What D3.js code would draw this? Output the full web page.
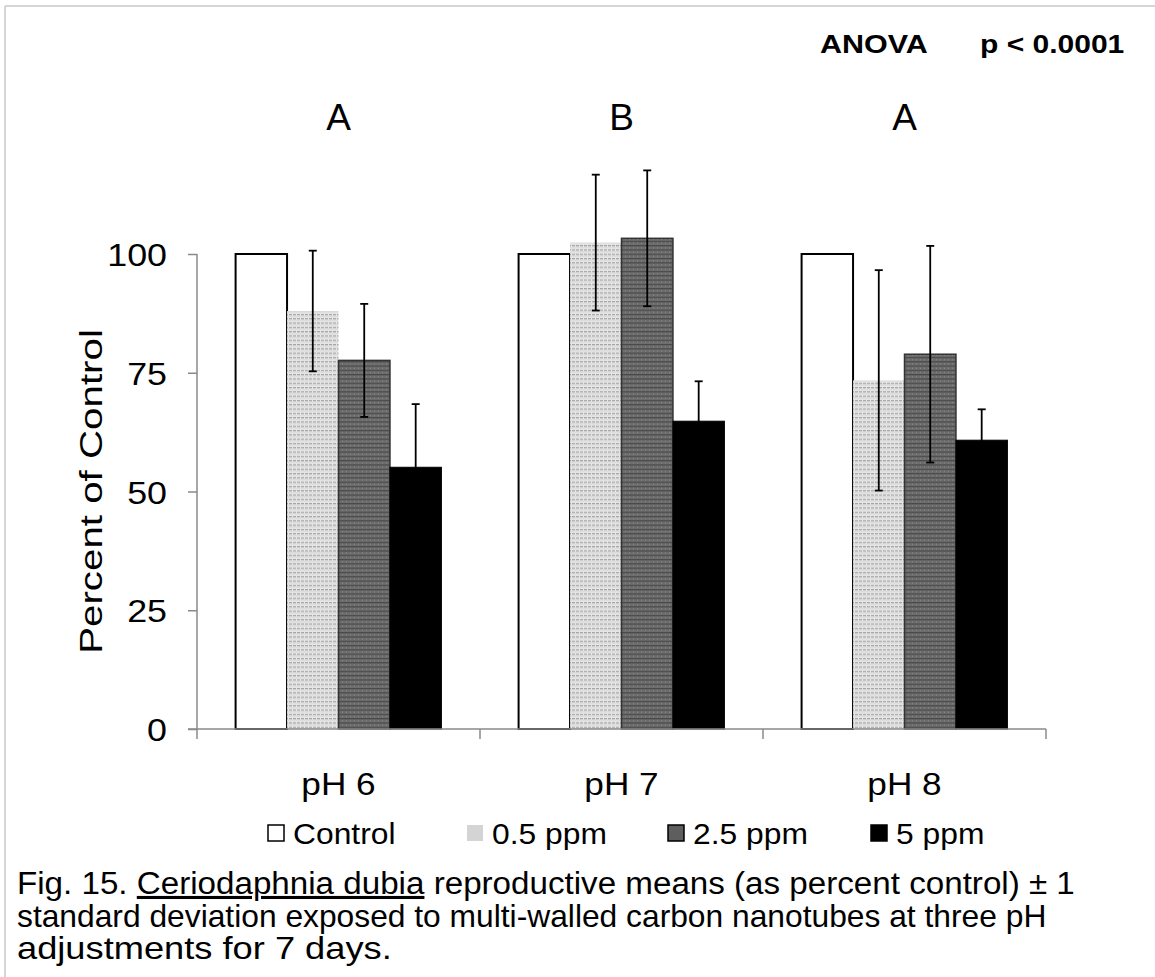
<!DOCTYPE html>
<html>
<head>
<meta charset="utf-8">
<script src="https://cdn.jsdelivr.net/npm/d3@7/dist/d3.min.js"></script>
<style>
  body { margin: 0; background: #fff; }
  text { font-family: "Liberation Sans", Arial, sans-serif; fill: #000; }
</style>
</head>
<body>
<script>
'use strict';

// data
var groups = ["pH 6", "pH 7", "pH 8"];
var series = ["Control", "0.5 ppm", "2.5 ppm", "5 ppm"];
var means = [
  [100, 88.0, 77.6, 55.1],
  [100, 102.4, 103.3, 64.8],
  [100, 73.4, 78.9, 60.8]
];
var sds = [
  [0, 12.7, 11.9, 13.3],
  [0, 14.3, 14.3, 8.4],
  [0, 23.2, 22.8, 6.5]
];
var groupLetters = ["A", "B", "A"];
var yTicks = [0, 25, 50, 75, 100];
var captionLines = [
  ["Fig. 15. ", "Ceriodaphnia dubia", " reproductive means (as percent control) \u00b1 1"],
  ["standard deviation exposed to multi-walled carbon nanotubes at three pH"],
  ["adjustments for 7 days."]
];

var W = 1155, H = 977;
var plot = {left: 197, right: 1046, top: 254, bottom: 729};

// the source text is a little wider than Arial, so stretch along the line
function stretched(sel, x, y, sx, rot) {
  return sel.attr("transform", "translate(" + x + "," + y + ")" +
                  (rot ? " rotate(" + rot + ")" : "") +
                  " scale(" + sx + ",1)");
}

var svg = d3.select("body").append("svg")
    .attr("width", W)
    .attr("height", H)
    .attr("xmlns", "http://www.w3.org/2000/svg");

// patterns for the hatched fills
var defs = svg.append("defs");

var p1 = defs.append("pattern")
    .attr("id", "light")
    .attr("patternUnits", "userSpaceOnUse")
    .attr("width", 4).attr("height", 4.3);
p1.append("rect").attr("width", 4).attr("height", 4.3).attr("fill", "#e6e6e6");
p1.append("rect").attr("y", 0).attr("width", 3).attr("height", 1.2).attr("fill", "#a4a4a4");
p1.append("rect").attr("y", 2.2).attr("width", 4).attr("height", 0.6).attr("fill", "#d0d0d0");

var p2 = defs.append("pattern")
    .attr("id", "dark")
    .attr("patternUnits", "userSpaceOnUse")
    .attr("width", 4).attr("height", 4.3);
p2.append("rect").attr("width", 4).attr("height", 4.3).attr("fill", "#6c6c6c");
p2.append("rect").attr("y", 0).attr("width", 4).attr("height", 1.2).attr("fill", "#4a4a4a");
p2.append("rect").attr("x", 1).attr("y", 2.2).attr("width", 1).attr("height", 1).attr("fill", "#8c8c8c");

var fills = ["#ffffff", "url(#light)", "url(#dark)", "#000000"];
var strokes = ["#000", "none", "#333", "#000"];
var strokeW = [2, 0, 1.5, 1];

// frame round the figure
svg.append("line").attr("x1", 5).attr("x2", W).attr("y1", 6).attr("y2", 6)
    .attr("stroke", "#c8c8c8").attr("stroke-width", 1.5);
svg.append("line").attr("x1", 5).attr("x2", 5).attr("y1", 6).attr("y2", H)
    .attr("stroke", "#c8c8c8").attr("stroke-width", 1.5);

// scales
var x0 = d3.scaleBand().domain(groups).range([plot.left, plot.right]);
var x1 = d3.scaleBand().domain(series).range([0, x0.bandwidth()])
    .paddingInner(0).paddingOuter(0.75);
var y = d3.scaleLinear().domain([0, 100]).range([plot.bottom, plot.top]);

// axes
var yAxis = svg.append("g")
    .attr("transform", "translate(" + plot.left + ",0)")
    .call(d3.axisLeft(y).tickValues(yTicks).tickSize(9));
yAxis.select(".domain").remove();
yAxis.append("line")
    .attr("x1", 0).attr("x2", 0)
    .attr("y1", y(0)).attr("y2", y(100));
yAxis.selectAll("line").attr("stroke", "#8a8a8a").attr("stroke-width", 1.5);
yAxis.selectAll(".tick text")
    .attr("font-family", "Liberation Sans, Arial, sans-serif")
    .attr("font-size", 32)
    .attr("x", 0)
    .attr("dy", "0.36em")
    .attr("transform", "translate(-30,0) scale(1.12,1)");

var bars = svg.append("g");
groups.forEach(function(g, gi) {
  var gg = bars.append("g").attr("transform", "translate(" + x0(g) + ",0)");
  series.forEach(function(s, si) {
    gg.append("rect")
        .attr("x", x1(s))
        .attr("y", y(means[gi][si]))
        .attr("width", x1.bandwidth())
        .attr("height", y(0) - y(means[gi][si]))
        .attr("fill", fills[si])
        .attr("stroke", strokes[si])
        .attr("stroke-width", strokeW[si]);
  });
  // error bars
  series.forEach(function(s, si) {
    var sd = sds[gi][si];
    if (!sd) return;
    var cx = x1(s) + x1.bandwidth() / 2;
    var top = y(means[gi][si] + sd), bot = y(means[gi][si] - sd);
    var eb = gg.append("g").attr("stroke", "#000").attr("stroke-width", 1.8);
    eb.append("line").attr("x1", cx).attr("x2", cx).attr("y1", top).attr("y2", bot);
    eb.append("line").attr("x1", cx - 4).attr("x2", cx + 4).attr("y1", top).attr("y2", top);
    eb.append("line").attr("x1", cx - 4).attr("x2", cx + 4).attr("y1", bot).attr("y2", bot);
  });
});

var xAxis = svg.append("g")
    .attr("transform", "translate(0," + plot.bottom + ")");
xAxis.append("line")
    .attr("x1", plot.left - 9).attr("x2", plot.right)
    .attr("y1", 0).attr("y2", 0);
var bounds = groups.map(function(g) { return x0(g); }).concat([plot.right]);
xAxis.selectAll("line.tk").data(bounds).enter().append("line")
    .attr("class", "tk")
    .attr("x1", function(d) { return d; }).attr("x2", function(d) { return d; })
    .attr("y1", 0).attr("y2", 10);
xAxis.selectAll("line").attr("stroke", "#8a8a8a").attr("stroke-width", 1.5);
xAxis.selectAll("text").data(groups).enter().append("text")
    .attr("text-anchor", "middle")
    .attr("font-size", 32)
    .text(function(d) { return d; })
    .each(function(d) {
      stretched(d3.select(this), x0(d) + x0.bandwidth() / 2, 66, 1.1);
    });

// significance letters
svg.selectAll("text.letter").data(groups).enter().append("text")
    .attr("class", "letter")
    .attr("x", function(d) { return x0(d) + x0.bandwidth() / 2; })
    .attr("y", 130)
    .attr("text-anchor", "middle")
    .attr("font-size", 37)
    .text(function(d, i) { return groupLetters[i]; });

// ANOVA note
stretched(svg.append("text"), 820, 53, 1.22)
    .attr("font-size", 25).attr("font-weight", "bold").text("ANOVA");
stretched(svg.append("text"), 980, 53, 1.2)
    .attr("font-size", 25).attr("font-weight", "bold").text("p < 0.0001");

// y title
stretched(svg.append("text"), 102, (plot.top + plot.bottom) / 2, 1.26, -90)
    .attr("text-anchor", "middle")
    .attr("font-size", 32)
    .text("Percent of Control");

// legend
var legendX = [268, 467, 668, 871];
var legend = svg.append("g").attr("transform", "translate(0,833)");
series.forEach(function(s, si) {
  legend.append("rect")
      .attr("x", legendX[si]).attr("y", -8)
      .attr("width", 16).attr("height", 16)
      .attr("fill", si === 1 ? "#d4d4d4" : si === 2 ? "#5e5e5e" : fills[si])
      .attr("stroke", si === 1 ? "none" : "#000")
      .attr("stroke-width", 1.5);
  stretched(legend.append("text"), legendX[si] + 25, 11, 1.06)
      .attr("font-size", 30)
      .text(s);
});

// caption, each line stretched to its width in the source
var captionStretch = [1.07, 1.025, 1.17];
captionLines.forEach(function(parts, li) {
  var t = stretched(svg.append("text"), 17, 894 + li * 32.5, captionStretch[li])
      .attr("font-size", 31);
  parts.forEach(function(p, pi) {
    var ts = t.append("tspan").text(p);
    if (li === 0 && pi === 1) ts.attr("text-decoration", "underline");
  });
});
</script>
</body>
</html>
